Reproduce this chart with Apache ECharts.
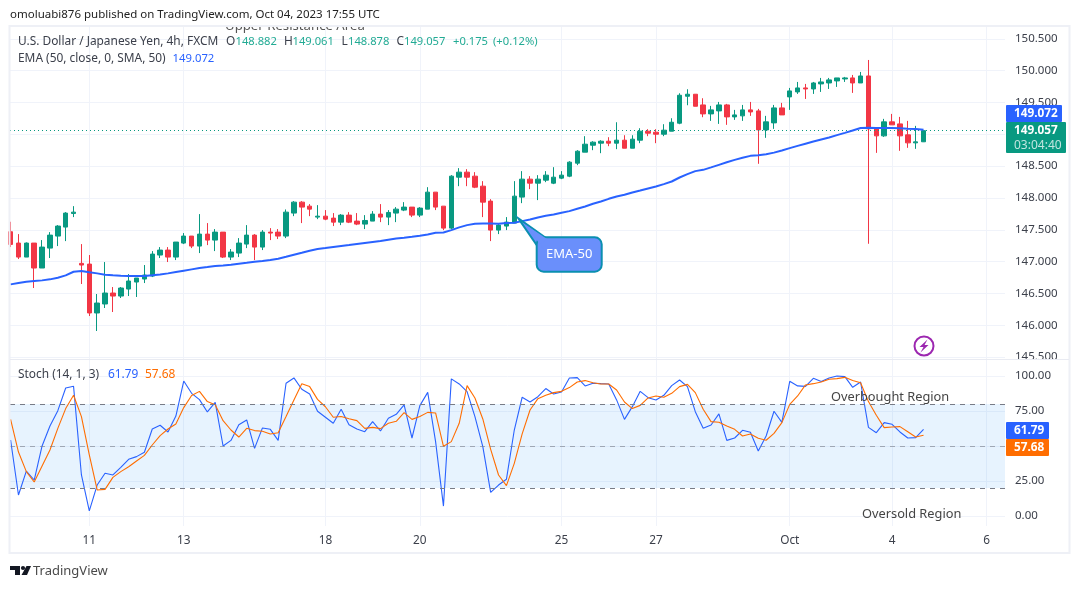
<!DOCTYPE html>
<html>
<head>
<meta charset="utf-8">
<title>USD/JPY 4h</title>
<script src="https://cdn.jsdelivr.net/npm/echarts@6/dist/echarts.min.js"></script>
<style>
html, body { margin: 0; padding: 0; background: #fff; }
#main { width: 1080px; height: 589px; }
</style>
</head>
<body>
<div id="main"></div>
<script>
// bars are numbered 0..116, x axis runs past the last bar like on TradingView
var tickIndex = [10, 22, 40, 52, 70, 82, 99, 112, 124];
var tickLabels = ['11', '13', '18', '20', '25', '27', 'Oct', '4', '6'];
var priceTicks = [145.5, 146, 146.5, 147, 147.5, 148, 148.5, 149, 149.5, 150, 150.5];
var stochGrid = [0, 25, 50, 75, 100];
var stochTicks = [0, 25, 75, 100];

var opens = [
  147.469,147.291,147.071,147.291,146.899,147.212,147.401,147.542,147.756,146.972,
  146.961,146.193,146.334,146.506,146.459,146.569,146.679,146.726,146.773,147.103,
  147.181,147.071,147.291,147.401,147.244,147.432,147.338,147.463,147.071,147.134,
  147.275,147.416,147.228,147.463,147.463,147.401,147.762,147.934,147.871,147.699,
  147.714,147.683,147.620,147.730,147.636,147.589,147.636,147.746,147.699,147.762,
  147.809,147.856,147.730,147.824,148.091,147.871,147.526,148.326,148.405,148.342,
  148.185,147.950,147.495,147.558,147.605,148.013,148.295,148.232,148.279,148.232,
  148.311,148.342,148.546,148.719,148.828,148.860,148.891,148.860,148.907,148.781,
  148.907,149.048,149.032,149.001,149.048,149.174,149.597,149.629,149.461,149.320,
  149.367,149.461,149.273,149.289,149.383,149.367,149.069,149.179,149.414,149.587,
  149.665,149.728,149.712,149.791,149.806,149.838,149.869,149.885,149.806,149.916,
  149.100,148.975,149.195,149.163,148.991,148.865,148.882
];
var closes = [
  147.270,147.071,147.291,146.899,147.228,147.416,147.558,147.762,147.777,146.946,
  146.193,146.349,146.506,146.459,146.585,146.695,146.742,146.789,147.118,147.181,
  147.071,147.307,147.401,147.244,147.432,147.338,147.463,147.071,147.150,147.291,
  147.416,147.228,147.463,147.448,147.401,147.777,147.934,147.856,147.824,147.714,
  147.667,147.620,147.730,147.620,147.589,147.646,147.746,147.699,147.772,147.824,
  147.856,147.730,147.840,148.091,147.856,147.526,148.342,148.405,148.326,148.169,
  147.934,147.495,147.573,147.620,148.028,148.295,148.232,148.295,148.358,148.326,
  148.358,148.562,148.734,148.844,148.876,148.891,148.860,148.907,148.781,148.923,
  149.048,149.017,149.001,149.064,149.189,149.613,149.629,149.440,149.320,149.383,
  149.461,149.273,149.304,149.383,149.351,149.069,149.195,149.414,149.304,149.681,
  149.728,149.712,149.806,149.822,149.854,149.885,149.885,149.806,149.916,149.085,
  148.975,149.195,149.148,148.975,148.865,148.881,149.057
];
var lows = [
  147.228,147.040,147.071,146.585,146.899,147.056,147.244,147.322,147.699,146.648,
  146.145,145.910,146.271,146.208,146.428,146.459,146.444,146.663,146.757,147.056,
  146.993,147.024,147.275,147.212,147.134,147.259,147.165,147.056,147.024,147.071,
  147.212,147.024,147.181,147.338,147.354,147.369,147.714,147.605,147.714,147.667,
  147.650,147.558,147.573,147.605,147.573,147.511,147.636,147.620,147.573,147.620,
  147.793,147.699,147.699,147.824,147.809,147.495,147.511,148.185,148.185,148.154,
  147.699,147.322,147.432,147.495,147.605,147.918,148.138,147.966,148.248,148.217,
  148.295,148.326,148.515,148.719,148.750,148.703,148.813,148.766,148.781,148.781,
  148.860,148.970,148.860,148.970,149.048,149.158,149.456,149.440,149.268,149.210,
  149.163,149.148,149.226,149.210,149.289,148.536,148.944,149.085,149.304,149.383,
  149.634,149.555,149.634,149.665,149.712,149.744,149.822,149.650,149.806,147.280,
  148.708,148.959,149.148,148.740,148.787,148.771,148.878
];
var highs = [
  147.626,147.432,147.301,147.291,147.338,147.463,147.573,147.777,147.871,147.275,
  147.103,146.491,146.993,146.600,146.600,146.804,146.742,146.946,147.165,147.228,
  147.228,147.307,147.448,147.401,147.746,147.605,147.511,147.463,147.197,147.369,
  147.573,147.432,147.495,147.526,147.511,147.819,147.950,147.950,147.903,147.887,
  147.809,147.762,147.746,147.777,147.762,147.730,147.793,147.903,147.809,147.856,
  147.934,147.856,147.856,148.169,148.091,147.871,148.358,148.468,148.452,148.405,
  148.264,147.981,147.589,147.699,148.264,148.421,148.342,148.358,148.421,148.483,
  148.421,148.577,148.750,148.970,148.891,148.907,148.954,149.189,148.985,148.985,
  149.095,149.080,149.080,149.158,149.252,149.644,149.707,149.629,149.566,149.446,
  149.508,149.477,149.383,149.461,149.508,149.399,149.289,149.461,149.493,149.728,
  149.822,149.791,149.822,149.885,149.885,149.885,149.901,149.932,149.979,150.167,
  149.100,149.242,149.320,149.273,149.210,149.132,149.061
];
var ema50 = [
  146.642,146.663,146.684,146.695,146.705,146.721,146.747,146.784,146.841,146.852,
  146.831,146.815,146.794,146.784,146.778,146.773,146.773,146.773,146.784,146.799,
  146.815,146.836,146.857,146.878,146.899,146.914,146.930,146.940,146.951,146.967,
  146.982,146.998,147.008,147.024,147.045,147.076,147.108,147.139,147.171,147.197,
  147.212,147.228,147.244,147.259,147.275,147.291,147.307,147.322,147.343,147.364,
  147.375,147.390,147.406,147.427,147.453,147.458,147.495,147.537,147.573,147.594,
  147.599,147.599,147.594,147.605,147.610,147.636,147.662,147.694,147.720,147.741,
  147.767,147.793,147.830,147.866,147.908,147.945,147.986,148.023,148.049,148.086,
  148.117,148.149,148.180,148.217,148.258,148.321,148.373,148.421,148.441,148.480,
  148.520,148.560,148.598,148.630,148.661,148.672,148.687,148.712,148.745,148.782,
  148.818,148.852,148.886,148.918,148.949,148.986,149.022,149.060,149.098,149.102,
  149.100,149.098,149.098,149.095,149.088,149.082,149.072
];
var stochK = [
  54.3,15.0,32.1,25.7,50.0,64.3,75.2,91.4,92.6,29.3,
  3.6,22.1,30.5,29.3,34.8,40.5,42.4,45.5,62.1,64.8,
  60.0,71.4,96.4,87.6,83.1,74.3,81.2,50.0,54.0,65.2,
  68.6,48.3,62.9,61.9,54.0,94.8,98.6,90.5,87.1,74.8,
  70.5,66.2,76.2,65.2,62.1,60.2,67.4,60.7,69.8,72.6,
  79.3,55.7,78.8,88.3,53.1,7.1,97.9,94.3,88.8,71.0,
  49.5,16.9,22.1,26.2,61.4,84.8,81.4,85.2,91.0,87.1,
  88.6,98.6,98.8,92.9,94.8,94.5,94.3,82.9,69.0,78.1,
  89.0,84.5,82.9,86.2,93.1,97.1,92.4,74.5,62.6,65.0,
  72.9,54.0,55.7,61.2,59.8,46.4,57.1,74.8,66.9,96.2,
  92.9,92.6,98.3,96.0,98.6,100.0,99.5,91.9,95.7,63.3,
  59.5,66.7,65.5,60.0,55.7,56.0,61.79
];
var stochD = [
  69.0,45.7,31.7,24.3,35.7,47.1,62.6,76.7,86.2,71.0,
  43.6,18.6,19.0,27.6,31.7,35.2,39.3,43.3,50.7,57.4,
  62.1,65.7,77.4,86.0,89.0,81.7,79.5,68.1,61.4,56.4,
  62.6,61.0,60.5,58.6,59.5,71.0,82.9,94.5,92.4,83.3,
  78.0,70.5,71.0,69.5,68.1,62.6,63.3,62.4,66.2,67.6,
  73.8,69.0,71.0,74.0,73.6,49.8,53.1,66.2,93.1,84.3,
  69.3,47.6,29.3,21.7,37.6,58.6,75.7,83.8,86.2,88.1,
  89.0,91.7,95.7,96.7,95.2,94.3,94.3,90.0,81.4,76.7,
  79.0,84.3,85.7,84.8,87.6,92.4,94.0,88.1,76.2,67.4,
  66.9,64.3,61.9,57.1,58.6,55.5,54.1,59.0,66.7,79.7,
  85.7,93.6,94.5,95.7,97.6,98.1,99.0,96.7,95.2,81.7,
  72.0,63.1,63.6,63.8,60.2,56.4,57.68
];
var lastClose = 149.057;

var UP = '#089981', DOWN = '#f23645', BLUE = '#2962ff', ORANGE = '#ff6d00', GREEN_TEXT = '#22ab94';
var TEXT = '#3c404b', GRIDLINE = '#f0f3fa', FONT = '"Noto Sans", sans-serif';
var X_MIN = -0.076, X_MAX = 126.35;

var candles = opens.map(function (o, i) { return [i, o, closes[i], lows[i], highs[i]]; });
function xy(arr) { return arr.map(function (v, i) { return [i, v]; }); }

function txt(x, y, str, color, size, weight) {
  return {
    type: 'text', z: 60, silent: true,
    style: {
      x: x, y: y + 1, text: str, fill: color || TEXT, textVerticalAlign: 'middle',
      font: (weight || 'normal') + ' ' + (size || 11.9) + 'px ' + FONT
    }
  };
}
function box(x, y, w, h, fill, z) {
  return { type: 'rect', z: z || 55, silent: true, shape: { x: x, y: y, width: w, height: h, r: 1 }, style: { fill: fill } };
}

function xAxisOpt(idx, showLabel) {
  return {
    type: 'value', gridIndex: idx, min: X_MIN, max: X_MAX,
    axisLine: { show: false },
    axisTick: { show: false, customValues: tickIndex },
    splitLine: { show: true, lineStyle: { color: GRIDLINE, width: 1 } },
    axisLabel: {
      show: showLabel, customValues: tickIndex, margin: 9, color: TEXT, fontSize: 11.8, fontFamily: FONT,
      formatter: function (v) { return tickLabels[tickIndex.indexOf(v)]; }
    }
  };
}

var upperText = txt(225, 25.5, 'Upper Resistance Area', '#555', 13.2);
upperText.z = 50;

var option = {
  animation: false,
  backgroundColor: '#fff',
  grid: [
    { left: 10, right: 75, top: 27, height: 332 },
    { left: 10, right: 75, top: 360, height: 166 }
  ],
  xAxis: [xAxisOpt(0, false), xAxisOpt(1, true)],
  yAxis: [
    {
      type: 'value', gridIndex: 0, position: 'right', min: 145.47, max: 150.685,
      axisLine: { show: false },
      axisTick: { show: false, customValues: priceTicks },
      splitLine: { show: true, lineStyle: { color: GRIDLINE, width: 1 } },
      axisLabel: {
        customValues: priceTicks, margin: 10, color: TEXT, fontSize: 11.5, fontFamily: FONT, padding: [3, 0, 0, 0],
        formatter: function (v) { return v.toFixed(3); }
      }
    },
    {
      type: 'value', gridIndex: 1, position: 'right', min: -7.14, max: 111.4,
      axisLine: { show: false },
      axisTick: { show: false, customValues: stochGrid },
      splitLine: { show: true, lineStyle: { color: GRIDLINE, width: 1 } },
      axisLabel: {
        customValues: stochTicks, margin: 10, color: TEXT, fontSize: 11.5, fontFamily: FONT, padding: [3, 0, 0, 0],
        formatter: function (v) { return v.toFixed(2); }
      }
    }
  ],
  series: [
    {
      type: 'candlestick', name: 'USDJPY', xAxisIndex: 0, yAxisIndex: 0, data: candles, barWidth: 5,
      itemStyle: { color: UP, color0: DOWN, borderColor: UP, borderColor0: DOWN, borderWidth: 1 },
      markLine: {
        silent: true, symbol: 'none', animation: false, label: { show: false },
        lineStyle: { color: UP, type: [1, 3], width: 1 },
        data: [{ yAxis: lastClose }]
      }
    },
    {
      type: 'line', name: 'EMA', xAxisIndex: 0, yAxisIndex: 0, data: xy(ema50), showSymbol: false, z: 5,
      lineStyle: { color: BLUE, width: 2 }
    },
    {
      type: 'line', name: '%K', xAxisIndex: 1, yAxisIndex: 1, data: xy(stochK), showSymbol: false,
      lineStyle: { color: BLUE, width: 1.1 },
      markArea: {
        silent: true, itemStyle: { color: 'rgba(33,150,243,0.11)' },
        data: [[{ yAxis: 80 }, { yAxis: 20 }]]
      },
      markLine: {
        silent: true, symbol: 'none', animation: false, label: { show: false },
        data: [
          { yAxis: 80, lineStyle: { color: '#787b86', type: [5, 5], width: 1 } },
          { yAxis: 50, lineStyle: { color: 'rgba(120,123,134,0.6)', type: [5, 5], width: 1 } },
          { yAxis: 20, lineStyle: { color: '#787b86', type: [5, 5], width: 1 } }
        ]
      }
    },
    {
      type: 'line', name: '%D', xAxisIndex: 1, yAxisIndex: 1, data: xy(stochD), showSymbol: false,
      lineStyle: { color: ORANGE, width: 1.1 }
    }
  ],
  graphic: [
    // "Upper Resistance Area" is cut by the top of the frame
    upperText,
    box(0, 0, 1080, 26, '#fff', 58),
    box(1006, 360, 66, 8, '#fff', 58),
    { type: 'rect', z: 59, silent: true, shape: { x: 9.5, y: 26, width: 1060, height: 527 }, style: { fill: 'none', stroke: '#eef0f6', lineWidth: 2 } },
    { type: 'rect', z: 59, silent: true, shape: { x: 10, y: 359, width: 1059, height: 1 }, style: { fill: '#e9ebf2' } },

    txt(10, 14, 'omoluabi876 published on TradingView.com, Oct 04, 2023 17:55 UTC', '#222', 11.5),
    txt(18, 41, 'U.S. Dollar / Japanese Yen, 4h, FXCM'),
    txt(226, 41, 'O'), txt(235.5, 41, '148.882', GREEN_TEXT, 11.2),
    txt(284, 41, 'H'), txt(292.5, 41, '149.061', GREEN_TEXT, 11.2),
    txt(341.5, 41, 'L'), txt(348, 41, '148.878', GREEN_TEXT, 11.2),
    txt(396.5, 41, 'C'), txt(404, 41, '149.057', GREEN_TEXT, 11.2),
    txt(453, 41, '+0.175', GREEN_TEXT, 11.2), txt(493, 41, '(+0.12%)', GREEN_TEXT, 11.2),
    txt(18, 58, 'EMA (50, close, 0, SMA, 50)'), txt(172.5, 58, '149.072', BLUE, 11.3),
    txt(18, 373.5, 'Stoch (14, 1, 3)'), txt(108, 373.5, '61.79', BLUE), txt(145, 373.5, '57.68', ORANGE),

    txt(831, 396, 'Overbought Region', '#444', 12.8),
    txt(862, 513, 'Oversold Region', '#444', 12.8),

    // last value tags on the price and stoch scales
    box(1006, 105, 56, 17, BLUE),
    txt(1014, 113, '149.072', '#fff', 11.8, 'bold'),
    box(1006, 122, 60, 31, UP),
    txt(1014, 130, '149.057', '#fff', 11.8, 'bold'),
    txt(1014, 144.5, '03:04:40', 'rgba(255,255,255,0.75)', 12),
    box(1006, 422, 43, 17, BLUE),
    txt(1014, 430, '61.79', '#fff', 11.8, 'bold'),
    box(1006, 439, 43, 17, ORANGE),
    txt(1014, 447, '57.68', '#fff', 11.8, 'bold'),

    // EMA-50 callout: tip first, then the rounded box, then a fill to hide the seam
    { type: 'polygon', z: 56, silent: true, shape: { points: [[518.3, 218.3], [546, 238], [537, 245.5]] }, style: { fill: '#6a8ffb', stroke: '#0a8fb0', lineWidth: 2 } },
    { type: 'rect', z: 56, silent: true, shape: { x: 536.7, y: 237.3, width: 65, height: 34.4, r: 7 }, style: { fill: '#6a8ffb', stroke: '#0a8fb0', lineWidth: 2 } },
    { type: 'polygon', z: 56, silent: true, shape: { points: [[526, 225], [547, 239], [538, 246], [544, 250]] }, style: { fill: '#6a8ffb' } },
    txt(546, 253, 'EMA-50', '#fff', 13),

    // lightning mark
    { type: 'circle', z: 56, silent: true, shape: { cx: 924, cy: 346, r: 9.5 }, style: { fill: '#fff', stroke: '#9c27b0', lineWidth: 2 } },
    { type: 'polygon', z: 57, silent: true, shape: { points: [[927.5, 339.5], [919.5, 347], [923.5, 347], [920.5, 352.5], [928.5, 345], [924.5, 345]] }, style: { fill: '#9c27b0' } },

    // TradingView logo
    { type: 'polygon', z: 56, silent: true, shape: { points: [[10, 566], [20, 566], [20, 575], [15, 575], [15, 570], [10, 570]] }, style: { fill: '#131722' } },
    { type: 'circle', z: 56, silent: true, shape: { cx: 23, cy: 568, r: 2.1 }, style: { fill: '#131722' } },
    { type: 'polygon', z: 56, silent: true, shape: { points: [[26.5, 566], [31, 566], [27, 575], [21.5, 575]] }, style: { fill: '#131722' } },
    txt(33, 570.5, 'TradingView', '#4a4a4a', 13)
  ]
};

var chart = echarts.init(document.getElementById('main'));
chart.setOption(option);
</script>
</body>
</html>
